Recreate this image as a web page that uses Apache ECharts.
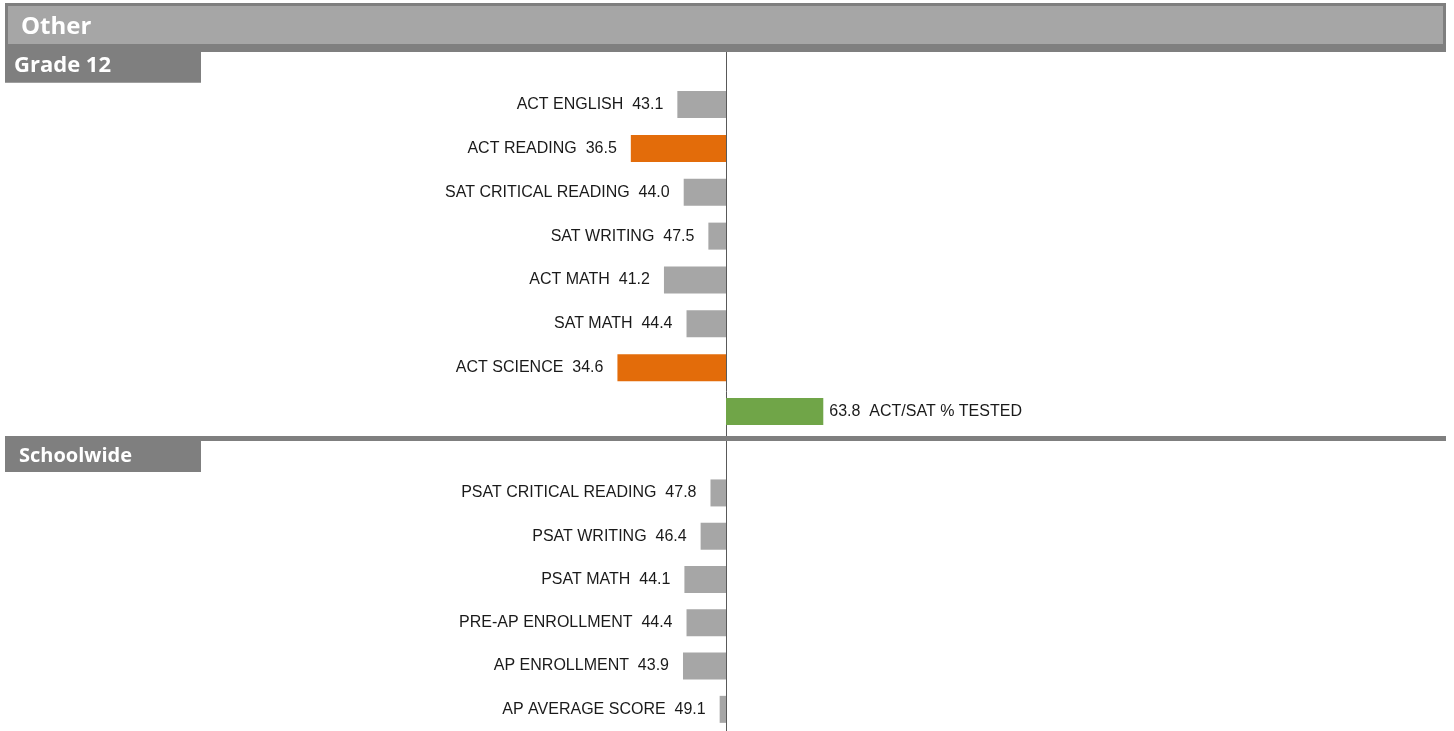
<!DOCTYPE html>
<html>
<head>
<meta charset="utf-8">
<script src="https://cdn.jsdelivr.net/npm/echarts@6/dist/echarts.min.js"></script>
<style>
  html, body { margin: 0; padding: 0; background: #fff; }
  #chart { width: 1454px; height: 731px; }
</style>
</head>
<body>
<div id="chart"></div>
<script>
// Section data (values are centred on 50)
var grade12Names = ['ACT ENGLISH', 'ACT READING', 'SAT CRITICAL READING', 'SAT WRITING',
                    'ACT MATH', 'SAT MATH', 'ACT SCIENCE', 'ACT/SAT % TESTED'];
var grade12Values = [43.1, 36.5, 44.0, 47.5, 41.2, 44.4, 34.6, 63.8];
var grade12Status = ['mid', 'low', 'mid', 'mid', 'mid', 'mid', 'low', 'high'];

var schoolNames = ['PSAT CRITICAL READING', 'PSAT WRITING', 'PSAT MATH',
                   'PRE-AP ENROLLMENT', 'AP ENROLLMENT', 'AP AVERAGE SCORE'];
var schoolValues = [47.8, 46.4, 44.1, 44.4, 43.9, 49.1];
var schoolStatus = ['mid', 'mid', 'mid', 'mid', 'mid', 'mid'];

var baseline = 50;

var statusColor = { low: '#e36c0a', mid: '#a6a6a6', high: '#70a548' };
var darkGray = '#7f7f7f';
var lightGray = '#a6a6a6';

var chart = echarts.init(document.getElementById('chart'));

function makeSeries(names, values, status, idx) {
    return {
        type: 'bar',
        xAxisIndex: idx,
        yAxisIndex: idx,
        barWidth: 27,
        silent: true,
        data: values.map(function(v, i) {
            var neg = v < baseline;
            return {
                value: +(v - baseline).toFixed(2),
                itemStyle: { color: statusColor[status[i]] },
                label: {
                    show: true,
                    position: neg ? 'left' : 'right',
                    distance: neg ? 14 : 6,
                    formatter: neg ? names[i] + '  ' + v.toFixed(1)
                                   : v.toFixed(1) + '  ' + names[i]
                }
            };
        }),
        label: {
            color: '#1a1a1a',
            fontFamily: '"Liberation Sans", Arial, sans-serif',
            fontSize: 16
        }
    };
}

function valueAxis(idx) {
    return {
        type: 'value', gridIndex: idx, min: -50, max: 50,
        show: false
    };
}

function catAxis(idx, names) {
    return {
        type: 'category', gridIndex: idx, data: names, inverse: true,
        axisLine: { show: false },
        axisTick: { show: false },
        axisLabel: { show: false },
        splitLine: { show: false }
    };
}

var option = {
    backgroundColor: '#fff',
    animation: false,
    grid: [
        { left: 373.5, width: 705, top: 82.6, height: 350.9 },
        { left: 373.5, width: 705, top: 471.3, height: 264 },
        // full-height grid that only carries the centre line
        { left: 373.5, width: 705, top: 52, bottom: 0 }
    ],
    xAxis: [valueAxis(0), valueAxis(1), valueAxis(2)],
    yAxis: [
        catAxis(0, grade12Names),
        catAxis(1, schoolNames),
        {
            type: 'value', gridIndex: 2,
            axisLine: { show: true, onZero: true, lineStyle: { color: '#595959', width: 1 } },
            axisTick: { show: false },
            axisLabel: { show: false },
            splitLine: { show: false }
        }
    ],
    series: [
        makeSeries(grade12Names, grade12Values, grade12Status, 0),
        makeSeries(schoolNames, schoolValues, schoolStatus, 1)
    ],
    graphic: [
        // title band
        { type: 'rect', shape: { x: 5, y: 3, width: 1441, height: 49 }, style: { fill: darkGray }, z: 10 },
        { type: 'rect', shape: { x: 8, y: 6, width: 1435, height: 38 }, style: { fill: lightGray }, z: 11 },
        { type: 'text', x: 21, y: 27, z: 12,
          style: { text: 'Other', fill: '#fff', font: 'bold 24px "Open Sans", sans-serif', verticalAlign: 'middle' } },
        // Grade 12 tab
        { type: 'rect', shape: { x: 5, y: 44, width: 196, height: 38.7 }, style: { fill: darkGray }, z: 10 },
        { type: 'text', x: 14, y: 66, z: 12,
          style: { text: 'Grade 12', fill: '#fff', font: 'bold 22px "Open Sans", sans-serif', verticalAlign: 'middle' } },
        // separator + Schoolwide tab
        { type: 'rect', shape: { x: 5, y: 436, width: 1441, height: 5 }, style: { fill: darkGray }, z: 10 },
        { type: 'rect', shape: { x: 5, y: 436, width: 196, height: 36 }, style: { fill: darkGray }, z: 10 },
        { type: 'text', x: 19, y: 456, z: 12,
          style: { text: 'Schoolwide', fill: '#fff', font: 'bold 20px "Open Sans", sans-serif', verticalAlign: 'middle' } }
    ]
};

chart.setOption(option);

window.addEventListener('resize', function() {
    chart.resize();
});
</script>
</body>
</html>
